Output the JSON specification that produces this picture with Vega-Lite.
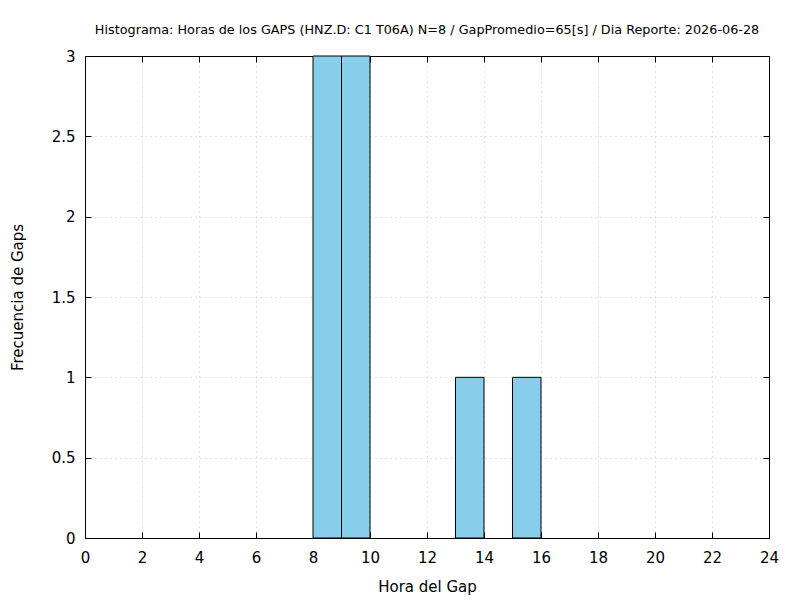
{
  "$schema": "https://vega.github.io/schema/vega-lite/v6.json",
  "width": 684,
  "height": 482,
  "autosize": {"type": "none"},
  "padding": {"left": 85, "top": 56, "right": 31, "bottom": 62},
  "background": "white",
  "title": {
    "text": "Histograma: Horas de los GAPS (HNZ.D: C1 T06A) N=8 / GapPromedio=65[s] / Dia Reporte: 2026-06-28",
    "fontSize": 12.8,
    "fontWeight": "normal",
    "font": "DejaVu Sans",
    "color": "black",
    "offset": 12,
    "anchor": "middle"
  },
  "data": {
    "values": [
      {"hora": 8, "hora_fin": 9, "gaps": 3},
      {"hora": 9, "hora_fin": 10, "gaps": 3},
      {"hora": 13, "hora_fin": 14, "gaps": 1},
      {"hora": 15, "hora_fin": 16, "gaps": 1}
    ]
  },
  "layer": [
    {
      "mark": {"type": "bar", "color": "#87ceeb", "stroke": "black", "strokeWidth": 1, "orient": "vertical"},
      "encoding": {
        "x": {
          "field": "hora", "type": "quantitative",
          "scale": {"domain": [0, 24], "nice": false, "zero": false, "padding": 0},
          "axis": {"values": [0, 2, 4, 6, 8, 10, 12, 14, 16, 18, 20, 22, 24], "title": "Hora del Gap", "tickSize": -6, "labelPadding": 18, "titlePadding": 14, "labelFlush": false}
        },
        "x2": {"field": "hora_fin"},
        "y": {
          "field": "gaps", "type": "quantitative",
          "scale": {"domain": [0, 3], "nice": false, "padding": 0},
          "axis": {"values": [0, 0.5, 1, 1.5, 2, 2.5, 3], "format": "~g", "title": "Frecuencia de Gaps", "tickSize": -6, "labelPadding": 16, "titlePadding": 26, "labelFlush": false}
        },
        "y2": {"datum": 0}
      }
    },
    {
      "mark": {"type": "bar", "opacity": 0, "orient": "vertical"},
      "encoding": {
        "x": {
          "field": "hora", "type": "quantitative",
          "scale": {"domain": [0, 24], "nice": false, "zero": false, "padding": 0},
          "axis": {"orient": "top", "values": [0, 2, 4, 6, 8, 10, 12, 14, 16, 18, 20, 22, 24], "labels": false, "grid": false, "title": null, "domain": true, "tickSize": -6}
        },
        "x2": {"field": "hora_fin"},
        "y": {
          "field": "gaps", "type": "quantitative",
          "scale": {"domain": [0, 3], "nice": false, "padding": 0},
          "axis": {"orient": "right", "values": [0, 0.5, 1, 1.5, 2, 2.5, 3], "labels": false, "grid": false, "title": null, "domain": true, "tickSize": -6}
        },
        "y2": {"datum": 0}
      }
    }
  ],
  "resolve": {"axis": {"x": "independent", "y": "independent"}},
  "config": {
    "font": "DejaVu Sans",
    "view": {"stroke": "black", "strokeWidth": 1},
    "axis": {
      "grid": true,
      "gridColor": "#c4c4c4",
      "gridDash": [1, 4],
      "gridWidth": 1,
      "domainColor": "black",
      "domainWidth": 1,
      "tickColor": "black",
      "tickWidth": 1,
      "labelColor": "black",
      "labelFontSize": 15,
      "titleFontSize": 15,
      "titleFontWeight": "normal",
      "titleColor": "black",
      "labelFont": "DejaVu Sans",
      "titleFont": "DejaVu Sans"
    }
  }
}
